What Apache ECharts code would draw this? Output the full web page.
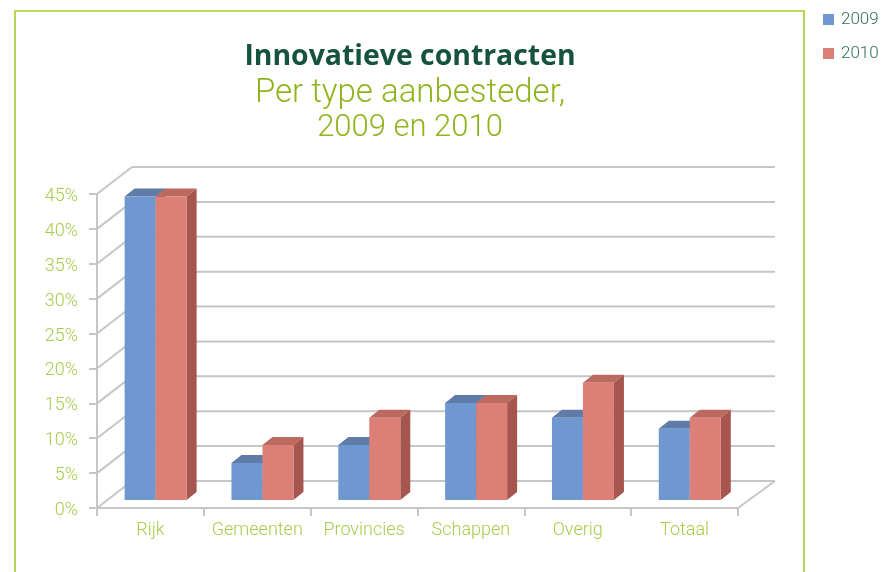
<!DOCTYPE html>
<html><head><meta charset="utf-8">
<style>html,body{margin:0;padding:0;background:#fff}#c{width:881px;height:572px}</style>
<script src="https://cdn.jsdelivr.net/npm/echarts@6/dist/echarts.min.js"></script>
</head><body><div id="c"></div>
<script>
const categories = ['Rijk','Gemeenten','Provincies','Schappen','Overig','Totaal'];
const values2009 = [43.5,5.3,7.9,13.9,11.8,10.2];
const values2010 = [43.5,7.9,11.8,13.9,16.8,11.8];
const gridTicks = [0,5,10,15,20,25,30,35,40,45];
const WALL_DX = 35, WALL_DY = 27, BAR_W = 31, BAR_DX = 10, BAR_DY = 8, FRONT_X = 5.2, FRONT_Y = 8;
const GREY = '#C6C6CA', LABEL = '#A9CB4C', FONT = 'Roboto';

const chart = echarts.init(document.getElementById('c'), null, {renderer:'canvas'});

function wall(params, api){
  const v = api.value(0), cs = params.coordSys;
  const y = api.coord([0, v])[1], x0 = cs.x, x1 = cs.x + cs.width;
  const st = {stroke:GREY, lineWidth:2, fill:null};
  const kids = [
    {type:'line', shape:{x1:x0,y1:y,x2:x0+WALL_DX,y2:y-WALL_DY}, style:st},
    {type:'line', shape:{x1:x0+WALL_DX,y1:y-WALL_DY,x2:x1+WALL_DX+2,y2:y-WALL_DY}, style:st}
  ];
  if (v === 0) kids.push({type:'line', shape:{x1:x1,y1:y,x2:x1+WALL_DX+2,y2:y-WALL_DY}, style:st});
  return {type:'group', children:kids};
}
function bar(sign, front, top, side){
  return function(params, api){
    const i = api.value(0), v = api.value(1);
    const c = api.coord([i, v]), b = api.coord([i, 0]);
    const xa = c[0] + FRONT_X + (sign < 0 ? -BAR_W : 0), xb = xa + BAR_W;
    const yt = c[1] - FRONT_Y, yb = b[1] - FRONT_Y;
    const kids = [
      {type:'polygon', shape:{points:[[xa,yt],[xa+BAR_DX,yt-BAR_DY],[xb+BAR_DX,yt-BAR_DY],[xb,yt]]}, style:{fill:top}},
      {type:'polygon', shape:{points:[[xb,yt],[xb+BAR_DX,yt-BAR_DY],[xb+BAR_DX,yb-BAR_DY],[xb,yb]]}, style:{fill:side}},
      {type:'rect', shape:{x:xa,y:yt,width:BAR_W,height:yb-yt}, style:{fill:front}}
    ];
    return {type:'group', children:kids};
  };
}
const option = {
  animation:false,
  backgroundColor:'#fff',
  title:{
    text:'Innovatieve contracten',
    subtext:'{a|Per type aanbesteder,}\n{b|2009 en 2010}',
    left:405, top:38, textAlign:'center', itemGap:5,
    textStyle:{fontFamily:'Open Sans',fontWeight:'bold',fontSize:28.4,color:'#15523F'},
    subtextStyle:{color:'#8FB51E', lineHeight:35,
      rich:{
        a:{fontFamily:FONT,fontWeight:300,fontSize:33,lineHeight:35,color:'#8FB51E'},
        b:{fontFamily:FONT,fontWeight:300,fontSize:31,lineHeight:35,color:'#8FB51E'}
      }}
  },
  legend:{
    data:['2009','2010'], orient:'vertical', left:823, top:11, padding:0, itemWidth:11, itemHeight:11, itemGap:17,
    icon:'rect',
    textStyle:{fontFamily:FONT,fontWeight:300,fontSize:17,color:'#2F7059',padding:[0,0,0,2]}
  },
  grid:{left:97, top:194, width:641, height:314},
  xAxis:{type:'category', data:categories, boundaryGap:true,
    axisLine:{show:true,lineStyle:{color:GREY,width:2}},
    axisTick:{show:true,length:8,lineStyle:{color:GREY,width:2}},
    axisLabel:{color:LABEL,fontFamily:FONT,fontWeight:300,fontSize:18,margin:13,interval:0},
    splitLine:{show:false}},
  yAxis:{type:'value', min:0, max:45, interval:5,
    axisLine:{show:true,lineStyle:{color:GREY,width:2}},
    axisTick:{show:true,length:8,lineStyle:{color:GREY,width:2}},
    axisLabel:{margin:19,formatter:function(v){return '{v|'+v+'%}';},
      rich:{v:{color:LABEL,fontFamily:FONT,fontWeight:300,fontSize:18,height:18,padding:[5,0,0,0]}}},
    splitLine:{show:false}},
  series:[
    {type:'custom', name:'wall', silent:true, clip:false, z:1, renderItem:wall, data:gridTicks.map(t=>[t]), encode:{y:0}},
    {type:'custom', name:'2009', clip:false, z:2, itemStyle:{color:'#7098D0'},
      renderItem:bar(-1,'#7098D0','#5F7BA8','#4F6A94'), data:values2009.map((v,i)=>[i,v]), encode:{x:0,y:1}},
    {type:'custom', name:'2010', clip:false, z:3, itemStyle:{color:'#DC7F76'},
      renderItem:bar(1,'#DC7F76','#BC6A60','#A6564F'), data:values2010.map((v,i)=>[i,v]), encode:{x:0,y:1}}
  ],
  graphic:[
    {type:'polyline', silent:true, z:10, shape:{points:[[15,572],[15,11],[804,11],[804,572]]}, style:{stroke:'#A6CB28',lineWidth:1.6,fill:null}}
  ]
};
chart.setOption(option);
</script></body></html>
